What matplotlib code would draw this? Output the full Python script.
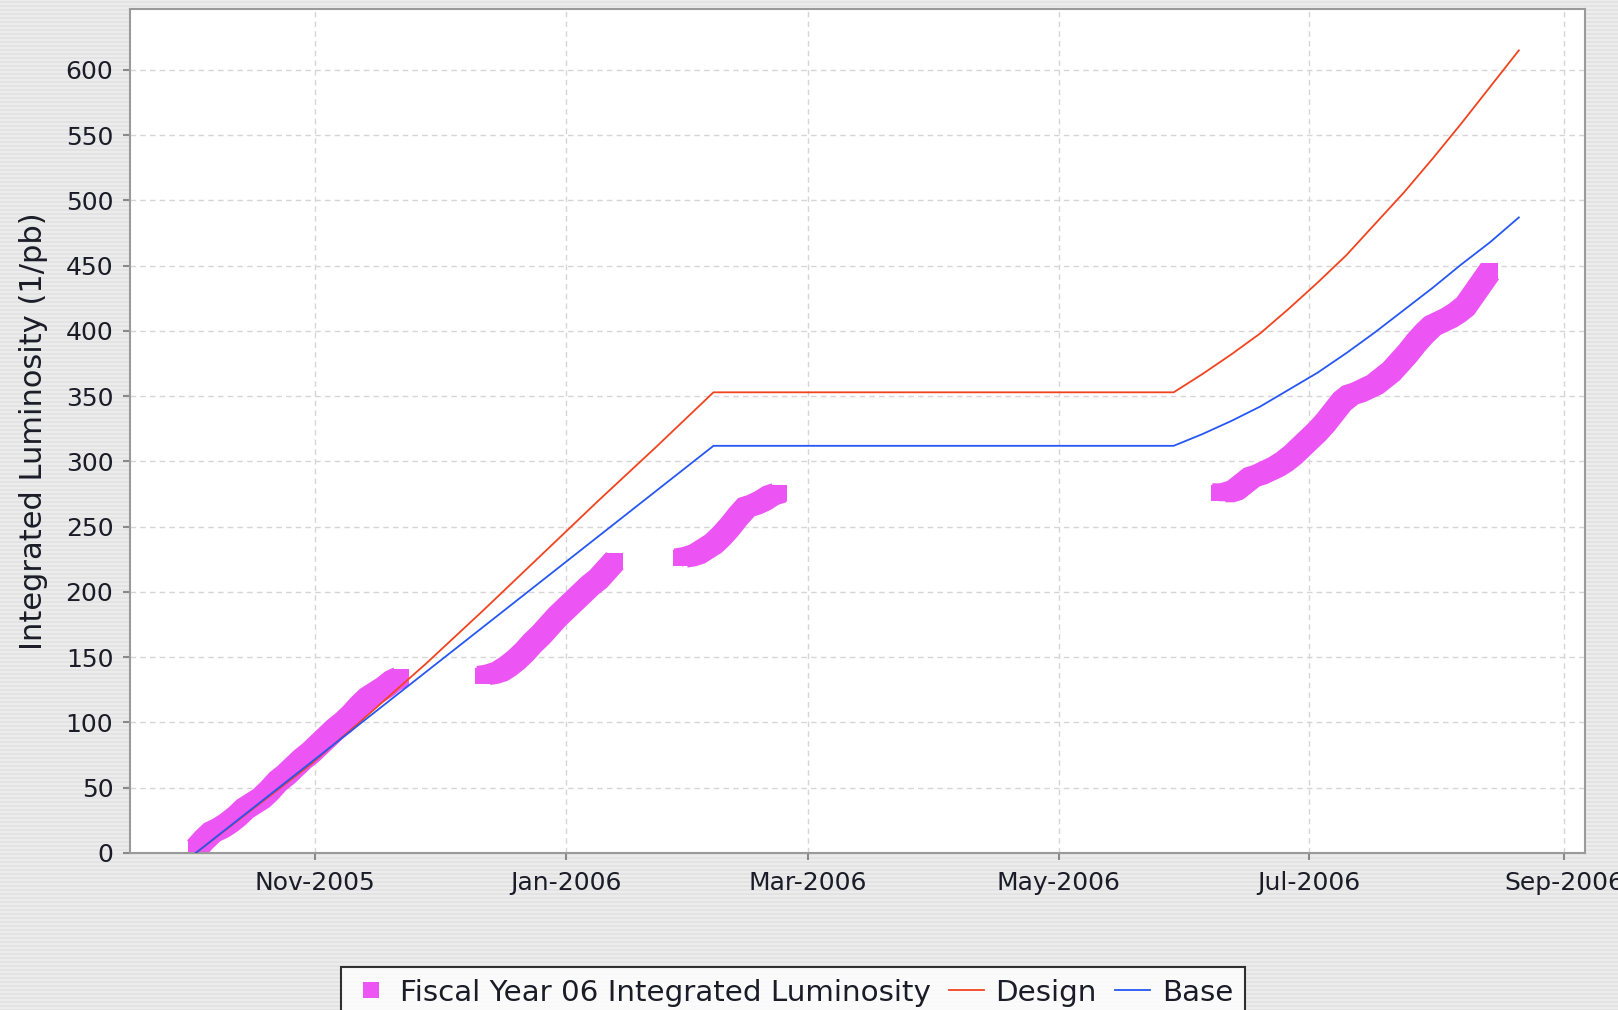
#!/usr/bin/env python3
"""Fiscal year 06 integrated luminosity vs design / base projections."""

import numpy as np
import pandas as pd
import matplotlib
matplotlib.use("Agg")
import matplotlib.pyplot as plt
import matplotlib.dates as mdates
import matplotlib.patheffects as pe
from matplotlib.lines import Line2D

# delivered luminosity, one reading every 2 days, four running periods
SEG_STEP = "2D"
seg1_start = "2005-10-03"
seg1_vals = [3, 10, 16, 19, 23, 28, 34, 38, 42, 48, 55, 60, 66, 72, 77,
             83, 89, 95, 100, 106, 113, 119, 123, 127, 132, 135]
seg2_start = "2005-12-12"
seg2_vals = [136, 137, 139, 143, 148, 154, 161, 167, 174, 181, 187, 193,
             199, 205, 210, 217, 224]
seg3_start = "2006-01-29"
seg3_vals = [226, 227, 229, 233, 237, 243, 250, 258, 265, 267, 270, 274, 276]
seg4_start = "2006-06-09"
seg4_vals = [276, 276, 278, 283, 288, 290, 293, 296, 300, 305, 311, 317,
             323, 330, 338, 346, 351, 353, 356, 359, 364, 369, 376, 383,
             391, 398, 404, 407, 410, 414, 419, 428, 437, 446]

design_dates = ["2005-10-03", "2005-10-17", "2005-10-31", "2005-11-14",
                "2005-11-28", "2005-12-12", "2005-12-26", "2006-01-09",
                "2006-01-23", "2006-02-06", "2006-05-29", "2006-06-05",
                "2006-06-12", "2006-06-19", "2006-06-26", "2006-07-03",
                "2006-07-10", "2006-07-17", "2006-07-24", "2006-07-31",
                "2006-08-07", "2006-08-14", "2006-08-21"]
design_vals = [0, 34, 68, 106, 145, 186, 228, 270, 311, 353, 353, 367,
               382, 398, 417, 437, 458, 482, 506, 532, 559, 587, 615]

base_dates = ["2005-10-03", "2006-02-06", "2006-05-29", "2006-06-05",
              "2006-06-12", "2006-06-19", "2006-06-26", "2006-07-03",
              "2006-07-10", "2006-07-17", "2006-07-24", "2006-07-31",
              "2006-08-07", "2006-08-14", "2006-08-21"]
base_vals = [0, 312, 312, 321, 331, 342, 355, 368, 383, 399, 416, 433,
             451, 468, 487]

MAGENTA = "#ec55f4"
RED = "#f2431f"
BLUE = "#2657f5"
BG = "#ececec"
TXT = "#1c1c28"

fig = plt.figure(figsize=(16.18, 10.10), dpi=100, facecolor=BG)

# aqua pinstripes
for yy in np.arange(0, 1010, 4):
    fig.add_artist(Line2D([0, 1], [yy / 1010, yy / 1010], transform=fig.transFigure,
                          color="#e2e2e2", lw=1.2, zorder=-10))

ax = fig.add_axes([130 / 1618, 1 - 853 / 1010, (1585 - 130) / 1618, (853 - 9) / 1010])
ax.set_facecolor("white")

# the original draws a square per day, so the squares merge into a band;
# mimic the swept-square shape with a thick stroke plus two corner strokes
band_fx = [pe.Stroke(offset=(-4.7, 4.7), linewidth=4.3, foreground=MAGENTA),
           pe.Stroke(offset=(4.7, -4.7), linewidth=4.3, foreground=MAGENTA),
           pe.Normal()]

segments = [(seg1_start, seg1_vals), (seg2_start, seg2_vals),
            (seg3_start, seg3_vals), (seg4_start, seg4_vals)]
for i, (start, vals) in enumerate(segments):
    dates = pd.date_range(start, periods=len(vals), freq=SEG_STEP)
    ax.plot(dates, vals, linestyle="-", lw=12.2, color=MAGENTA,
            solid_capstyle="butt", solid_joinstyle="miter", zorder=2,
            path_effects=band_fx)
    ax.plot(dates, vals, linestyle="none", marker="s", ms=12, mew=0,
            color=MAGENTA, zorder=2,
            label="Fiscal Year 06 Integrated Luminosity" if i == 0 else None)

ax.plot(pd.to_datetime(design_dates), design_vals, color=RED, lw=1.3,
        zorder=3, label="Design")
ax.plot(pd.to_datetime(base_dates), base_vals, color=BLUE, lw=1.3,
        zorder=3, label="Base")

nov1 = mdates.date2num(pd.Timestamp("2005-11-01"))
ax.set_xlim(nov1 - 45.0, nov1 + 309.1)
ax.set_ylim(0, 646.7)

ax.set_yticks(np.arange(0, 601, 50))
ax.xaxis.set_major_locator(mdates.MonthLocator(bymonth=[1, 3, 5, 7, 9, 11]))
ax.xaxis.set_major_formatter(mdates.DateFormatter("%b-%Y"))

ax.grid(True, color="#d6d6d6", linestyle=(0, (4, 3)), lw=1.0)
ax.set_axisbelow(True)
for side in ax.spines.values():
    side.set_color("#9a9a9a")
    side.set_linewidth(1.5)
ax.tick_params(axis="both", colors="#8a8a8a", labelcolor=TXT,
               labelsize=18, length=5, width=1.5)
ax.tick_params(axis="y", pad=7)
ax.tick_params(axis="x", pad=8)

ax.set_ylabel("Integrated Luminosity (1/pb)", fontsize=22, color=TXT,
              labelpad=13)

leg = ax.legend(loc="upper center", bbox_to_anchor=(793 / 1618, 1 - 967 / 1010),
                bbox_transform=fig.transFigure, ncol=3, fontsize=21.2,
                frameon=True, fancybox=False, edgecolor="black",
                handlelength=1.2, handletextpad=0.4, columnspacing=0.6,
                borderpad=0.4, borderaxespad=0)
leg.get_frame().set_linewidth(1.5)
for t in leg.get_texts():
    t.set_color(TXT)
for h in leg.legend_handles[:1]:
    h.set_markersize(11)

fig.savefig("out.png", dpi=100, facecolor=BG)
